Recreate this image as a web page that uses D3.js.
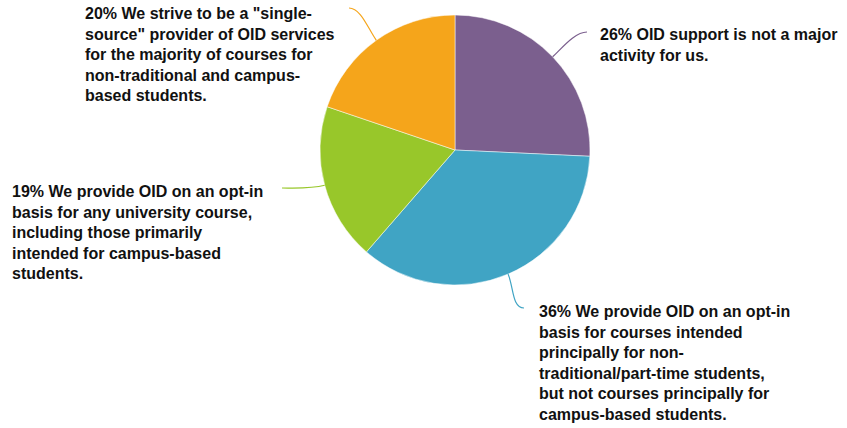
<!DOCTYPE html>
<html><head><meta charset="utf-8">
<script src="https://cdn.jsdelivr.net/npm/d3@7"></script>
<style>body{margin:0;background:#fff}svg{display:block}</style>
</head><body>
<script>
const categories = [
  "OID support is not a major activity for us.",
  "We provide OID on an opt-in basis for courses intended principally for non-traditional/part-time students, but not courses principally for campus-based students.",
  "We provide OID on an opt-in basis for any university course, including those primarily intended for campus-based students.",
  "We strive to be a \"single-source\" provider of OID services for the majority of courses for non-traditional and campus-based students."
];
const values = [26, 36, 19, 20];
const colors = ["#7b5f8e", "#40a4c4", "#98c72a", "#f5a51b"];
const labelLines = [
  ["26% OID support is not a major", "activity for us."],
  ["36% We provide OID on an opt-in", "basis for courses intended", "principally for non-", "traditional/part-time students,", "but not courses principally for", "campus-based students."],
  ["19% We provide OID on an opt-in", "basis for any university course,", "including those primarily", "intended for campus-based", "students."],
  ["20% We strive to be a \"single-", "source\" provider of OID services", "for the majority of courses for", "non-traditional and campus-", "based students."]
];

const W = 847, H = 428, cx = 455, cy = 150, R = 135;
// label layout: text origin (x, first baseline) and leader end point
const layout = [
  {tx: 600, ty: 40, ex: 587, ey: 32, dir: 1},
  {tx: 539, ty: 317, ex: 524, ey: 308, dir: 1},
  {tx: 12, ty: 197, ex: 282, ey: 188, dir: -1},
  {tx: 85, ty: 19, ex: 349, ey: 8, dir: -1}
];

const svg = d3.select("body").append("svg").attr("width", W).attr("height", H);
const g = svg.append("g").attr("transform", `translate(${cx},${cy})`);
const pie = d3.pie().sort(null).value(d => d)(values);
const arc = d3.arc().innerRadius(0).outerRadius(R);

g.selectAll("path.slice").data(pie).join("path")
  .attr("class", "slice")
  .attr("d", arc)
  .attr("fill", (d, i) => colors[i])
  .attr("stroke", "#fff").attr("stroke-width", 0.5);

// leader lines
pie.forEach((d, i) => {
  const a = (d.startAngle + d.endAngle) / 2;
  const sx = cx + R * Math.sin(a), sy = cy - R * Math.cos(a);
  const L = layout[i];
  const k = 14;
  const c1x = cx + (R + k) * Math.sin(a), c1y = cy - (R + k) * Math.cos(a);
  const c2x = L.ex - L.dir * 12, c2y = L.ey;
  const p = d3.path();
  p.moveTo(sx, sy);
  p.bezierCurveTo(c1x, c1y, c2x, c2y, L.ex, L.ey);
  svg.append("path").attr("d", p.toString())
    .attr("fill", "none").attr("stroke", colors[i]).attr("stroke-width", 1.2);
});

// labels
labelLines.forEach((lines, i) => {
  const L = layout[i];
  const t = svg.append("text")
    .attr("x", L.tx).attr("y", L.ty)
    .attr("font-family", "'Liberation Sans', Arial, Helvetica, sans-serif")
    .attr("font-weight", "bold").attr("font-size", 16).attr("fill", "#111");
  lines.forEach((ln, j) => {
    t.append("tspan").attr("x", L.tx).attr("y", L.ty + j * 20.5).text(ln);
  });
});
</script>
</body></html>
